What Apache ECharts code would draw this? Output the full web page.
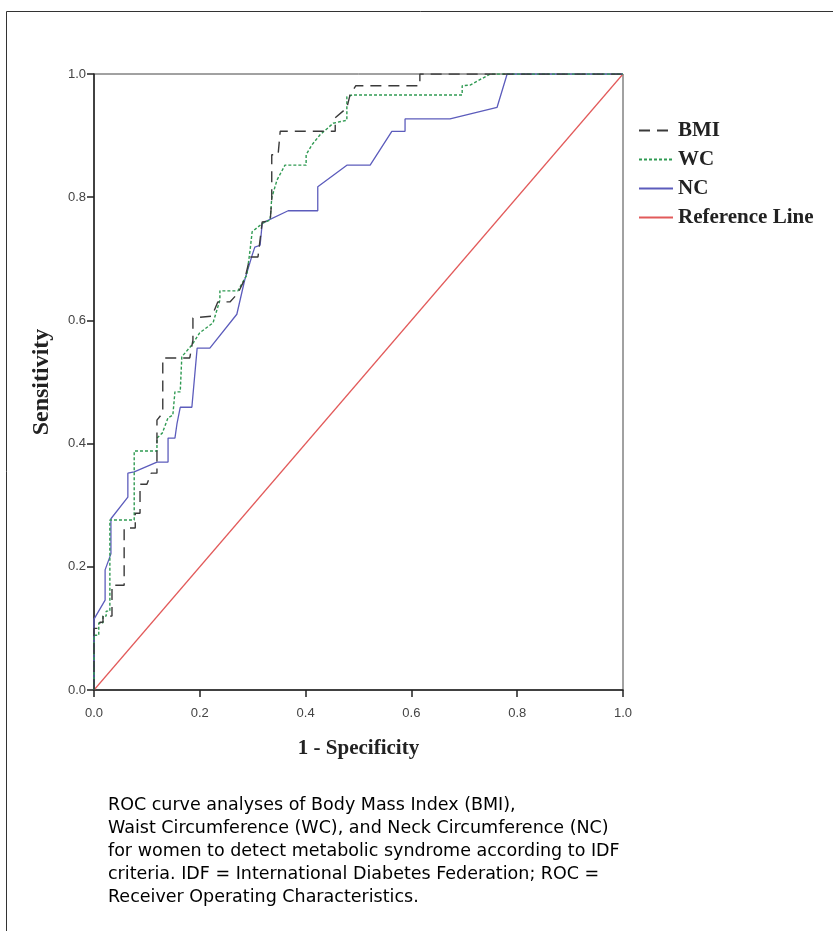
<!DOCTYPE html>
<html>
<head>
<meta charset="utf-8">
<script src="https://cdn.jsdelivr.net/npm/echarts@6/dist/echarts.min.js"></script>
<style>
html,body{margin:0;padding:0;background:#fff;}
#chart{width:833px;height:931px;}
</style>
</head>
<body>
<div id="chart"></div>
<script>
// ---- data (1 - specificity, sensitivity) ----
var seriesNames = ['BMI', 'WC', 'NC', 'Reference Line'];
var tickLabels = ['0.0', '0.2', '0.4', '0.6', '0.8', '1.0'];

var bmiFpr = [0, 0, 0.011, 0.011, 0.017, 0.017, 0.034, 0.034, 0.057, 0.057, 0.078, 0.078, 0.087, 0.087, 0.100, 0.108, 0.119, 0.119, 0.130, 0.130, 0.181, 0.187, 0.187, 0.223, 0.234, 0.257, 0.272, 0.285, 0.295, 0.310, 0.318, 0.333, 0.336, 0.336, 0.348, 0.352, 0.456, 0.456, 0.478, 0.484, 0.495, 0.616, 0.616, 1];
var bmiTpr = [0, 0.100, 0.100, 0.110, 0.110, 0.120, 0.120, 0.170, 0.170, 0.263, 0.263, 0.287, 0.287, 0.334, 0.334, 0.352, 0.352, 0.438, 0.450, 0.539, 0.539, 0.568, 0.604, 0.607, 0.630, 0.630, 0.644, 0.667, 0.703, 0.703, 0.760, 0.761, 0.795, 0.869, 0.869, 0.907, 0.907, 0.929, 0.945, 0.966, 0.981, 0.981, 1, 1];

var wcFpr = [0, 0, 0.009, 0.009, 0.017, 0.017, 0.023, 0.023, 0.030, 0.030, 0.076, 0.076, 0.119, 0.119, 0.129, 0.140, 0.149, 0.153, 0.163, 0.166, 0.185, 0.200, 0.225, 0.238, 0.238, 0.272, 0.289, 0.295, 0.299, 0.319, 0.333, 0.336, 0.346, 0.361, 0.401, 0.401, 0.412, 0.427, 0.452, 0.478, 0.478, 0.488, 0.696, 0.696, 0.711, 0.749, 1];
var wcTpr = [0, 0.089, 0.089, 0.109, 0.109, 0.120, 0.120, 0.128, 0.128, 0.276, 0.276, 0.388, 0.388, 0.409, 0.417, 0.442, 0.446, 0.484, 0.484, 0.541, 0.560, 0.580, 0.596, 0.633, 0.648, 0.648, 0.674, 0.714, 0.744, 0.758, 0.763, 0.799, 0.828, 0.852, 0.852, 0.869, 0.885, 0.901, 0.920, 0.925, 0.963, 0.966, 0.966, 0.981, 0.982, 1, 1];

var ncFpr = [0, 0, 0.021, 0.021, 0.032, 0.032, 0.064, 0.064, 0.076, 0.119, 0.140, 0.140, 0.153, 0.157, 0.163, 0.185, 0.195, 0.219, 0.270, 0.285, 0.299, 0.304, 0.314, 0.318, 0.367, 0.423, 0.423, 0.478, 0.522, 0.563, 0.588, 0.588, 0.673, 0.762, 0.781, 1];
var ncTpr = [0, 0.115, 0.146, 0.195, 0.221, 0.278, 0.313, 0.352, 0.354, 0.370, 0.370, 0.409, 0.409, 0.433, 0.459, 0.459, 0.555, 0.555, 0.610, 0.666, 0.706, 0.719, 0.722, 0.758, 0.778, 0.778, 0.817, 0.852, 0.852, 0.907, 0.907, 0.927, 0.927, 0.946, 1, 1];

var refFpr = [0, 1];
var refTpr = [0, 1];

var captionLines = [
  'ROC curve analyses of Body Mass Index (BMI),',
  'Waist Circumference (WC), and Neck Circumference (NC)',
  'for women to detect metabolic syndrome according to IDF',
  'criteria. IDF = International Diabetes Federation; ROC =',
  'Receiver Operating Characteristics.'
];

function pairs(xs, ys) {
  var out = [];
  for (var i = 0; i < xs.length; i++) out.push([xs[i], ys[i]]);
  return out;
}

var chart = echarts.init(document.getElementById('chart'), null, {renderer: 'canvas'});

var serif = '"Liberation Serif", "DejaVu Serif", serif';
var sans = '"Liberation Sans", Arial, sans-serif';
var wide = '"DejaVu Sans", "Liberation Sans", sans-serif';

var graphics = [{
  type: 'rect',
  shape: {x: 6.5, y: 11.5, width: 900, height: 1000},
  style: {fill: 'none', stroke: '#333', lineWidth: 1},
  silent: true
}];
captionLines.forEach(function (t, i) {
  graphics.push({
    type: 'text',
    left: 108,
    top: 796 + i * 23.2,
    style: {text: t, font: '17.5px ' + wide, fill: '#000'}
  });
});

var option = {
  backgroundColor: '#fff',
  animation: false,
  graphic: graphics,
  grid: {left: 94, top: 74, width: 529, height: 616, show: true, borderColor: '#444', borderWidth: 1, backgroundColor: 'transparent'},
  legend: {
    orient: 'vertical',
    left: 633,
    top: 115,
    itemWidth: 34,
    itemHeight: 14,
    itemGap: 8,
    data: seriesNames,
    itemStyle: {opacity: 0},
    textStyle: {fontFamily: serif, fontWeight: 'bold', fontSize: 21, color: '#222'}
  },
  xAxis: {
    type: 'value', min: 0, max: 1, interval: 0.2,
    name: '1 - Specificity', nameLocation: 'middle', nameGap: 48,
    nameTextStyle: {fontFamily: serif, fontWeight: 'bold', fontSize: 21, color: '#222'},
    axisLine: {show: true, lineStyle: {color: '#222', width: 1.5}},
    axisTick: {show: true, length: 7, lineStyle: {color: '#222', width: 1.5}},
    axisLabel: {fontFamily: sans, fontSize: 13, color: '#444', margin: 17, formatter: function (v) { return tickLabels[Math.round(v * 5)]; }},
    splitLine: {show: false}
  },
  yAxis: {
    type: 'value', min: 0, max: 1, interval: 0.2,
    name: 'Sensitivity', nameLocation: 'middle', nameGap: 40, nameRotate: 90,
    nameTextStyle: {fontFamily: serif, fontWeight: 'bold', fontSize: 24, color: '#222'},
    axisLine: {show: true, lineStyle: {color: '#222', width: 1.5}},
    axisTick: {show: true, length: 7, lineStyle: {color: '#222', width: 1.5}},
    axisLabel: {fontFamily: sans, fontSize: 13, color: '#444', margin: 8, formatter: function (v) { return tickLabels[Math.round(v * 5)]; }},
    splitLine: {show: false}
  },
  series: [
    {name: 'BMI', type: 'line', symbol: 'none', z: 4, data: pairs(bmiFpr, bmiTpr),
     lineStyle: {color: '#3a3a3a', width: 1.4, type: [11, 7]}, itemStyle: {color: '#3a3a3a'}},
    {name: 'WC', type: 'line', symbol: 'none', z: 3, data: pairs(wcFpr, wcTpr),
     lineStyle: {color: '#2f9a52', width: 1.4, type: [3, 2]}, itemStyle: {color: '#2f9a52'}},
    {name: 'NC', type: 'line', symbol: 'none', z: 2, data: pairs(ncFpr, ncTpr),
     lineStyle: {color: '#5c5cbc', width: 1.3}, itemStyle: {color: '#5c5cbc'}},
    {name: 'Reference Line', type: 'line', symbol: 'none', z: 1, data: pairs(refFpr, refTpr),
     lineStyle: {color: '#e25a5a', width: 1.2}, itemStyle: {color: '#e25a5a'}}
  ]
};
chart.setOption(option);
</script>
</body>
</html>
